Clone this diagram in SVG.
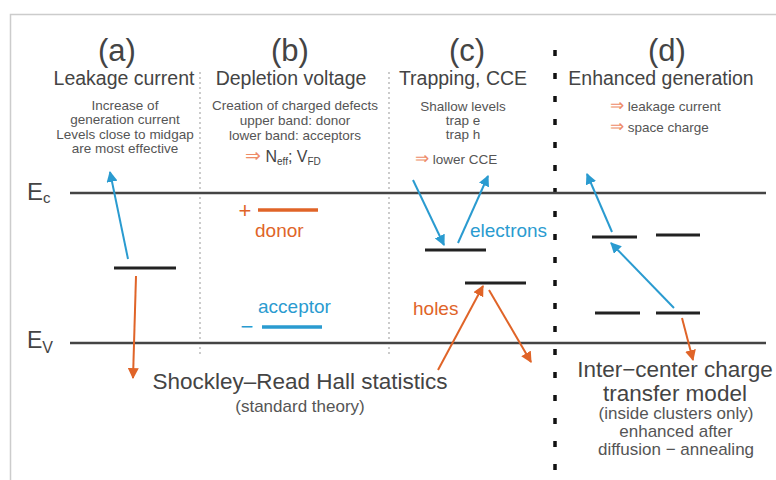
<svg xmlns="http://www.w3.org/2000/svg" width="776" height="480" viewBox="0 0 776 480">
<style>
text{font-family:"Liberation Sans",Arial,sans-serif;fill:#444}
.hd{font-size:31px;text-anchor:middle}
.sub{font-size:19.5px;text-anchor:middle}
.sm{font-size:13.5px;text-anchor:middle;fill:#555}
.sl{font-size:13.5px;fill:#555}
.big{font-size:22.5px;text-anchor:middle}
.mid{font-size:17px;text-anchor:middle;fill:#555}
.lab{font-size:19px}
.band{stroke:#444;stroke-width:2.5}
.lvl{stroke:#222;stroke-width:3}
.blue{stroke:#2a9bd0;stroke-width:2;fill:none}
.orng{stroke:#e06428;stroke-width:2;fill:none}
.bt{fill:#2a9bd0}
.ot{fill:#e06428}
.imp{fill:#ee8c68}
.dot{stroke:#aaa;stroke-width:1.2;stroke-dasharray:2 3}
</style>
<defs>
<marker id="ab" viewBox="0 0 10 10" refX="9" refY="5" markerWidth="5.5" markerHeight="5.5" orient="auto" markerUnits="strokeWidth"><path d="M0,0 L10,5 L0,10 z" fill="#2a9bd0"/></marker>
<marker id="ao" viewBox="0 0 10 10" refX="9" refY="5" markerWidth="5.5" markerHeight="5.5" orient="auto" markerUnits="strokeWidth"><path d="M0,0 L10,5 L0,10 z" fill="#e06428"/></marker>
</defs>
<rect width="776" height="480" fill="#fff"/>
<g id="frame"><path d="M10.5,480 V14.5 H776" fill="none" stroke="#ccc" stroke-width="1.5"/></g>
<g id="separators">
<line class="dot" x1="200" y1="72" x2="200" y2="356"/>
<line class="dot" x1="389" y1="72" x2="389" y2="356"/>
<line x1="555" y1="50" x2="555" y2="470" stroke="#111" stroke-width="3.5" stroke-dasharray="6 17"/>
</g>
<g id="bands">
<line class="band" x1="70" y1="193" x2="766" y2="193"/>
<line class="band" x1="70" y1="343" x2="766" y2="343"/>
<text x="27" y="200" font-size="24">E<tspan font-size="15" dy="3">c</tspan></text>
<text x="27" y="348" font-size="23">E<tspan font-size="16" dy="5">V</tspan></text>
</g>
<g id="headers">
<text class="hd" x="117" y="61">(a)</text>
<text class="hd" x="290" y="61">(b)</text>
<text class="hd" x="467" y="61">(c)</text>
<text class="hd" x="667" y="61">(d)</text>
<text class="sub" x="124" y="85">Leakage current</text>
<text class="sub" x="291" y="85">Depletion voltage</text>
<text class="sub" x="463" y="85">Trapping, CCE</text>
<text class="sub" x="661" y="85">Enhanced generation</text>
</g>
<g id="desc-a">
<text class="sm" x="125" y="110">Increase of</text>
<text class="sm" x="125" y="124">generation current</text>
<text class="sm" x="125" y="139">Levels close to midgap</text>
<text class="sm" x="125" y="153">are most effective</text>
</g>
<g id="desc-b">
<text class="sm" x="295" y="110">Creation of charged defects</text>
<text class="sm" x="295" y="125">upper band: donor</text>
<text class="sm" x="295" y="140">lower band: acceptors</text>
<text x="245" y="162" font-size="16"><tspan class="imp" font-size="19">⇒</tspan> N<tspan font-size="10" dy="3">eff</tspan><tspan dy="-3">; V</tspan><tspan font-size="10" dy="3">FD</tspan></text>
</g>
<g id="desc-c">
<text class="sm" x="463" y="111">Shallow levels</text>
<text class="sm" x="463" y="125">trap e</text>
<text class="sm" x="463" y="139">trap h</text>
<text x="415" y="164" class="sl"><tspan class="imp" font-size="17">⇒</tspan> lower CCE</text>
</g>
<g id="desc-d">
<text x="610" y="111" class="sl"><tspan class="imp" font-size="17">⇒</tspan> leakage current</text>
<text x="610" y="132" class="sl"><tspan class="imp" font-size="17">⇒</tspan> space charge</text>
</g>
<g id="levels">
<line class="lvl" x1="114" y1="268" x2="176" y2="268"/>
<line x1="258" y1="210" x2="318" y2="210" stroke="#e06428" stroke-width="3.5"/>
<line x1="262" y1="327" x2="322" y2="327" stroke="#2a9bd0" stroke-width="3.5"/>
<line class="lvl" x1="425" y1="250" x2="486" y2="250"/>
<line class="lvl" x1="465" y1="283" x2="526" y2="283"/>
<line class="lvl" x1="592" y1="237" x2="637" y2="237"/>
<line class="lvl" x1="656" y1="235" x2="700" y2="235"/>
<line class="lvl" x1="595" y1="313" x2="640" y2="313"/>
<line class="lvl" x1="656" y1="313" x2="700" y2="313"/>
</g>
<g id="labels">
<text x="245" y="218" font-size="22" class="ot" text-anchor="middle">+</text>
<text x="255" y="237" class="lab ot">donor</text>
<text x="258" y="313" class="lab bt">acceptor</text>
<text x="247" y="334" font-size="22" class="bt" text-anchor="middle">−</text>
<text x="470" y="237" class="lab bt">electrons</text>
<text x="413" y="315" class="lab ot">holes</text>
</g>
<g id="connectors">
<line class="blue" x1="128" y1="259" x2="110" y2="172" marker-end="url(#ab)"/>
<line class="orng" x1="136" y1="276" x2="133" y2="378" marker-end="url(#ao)"/>
<line class="blue" x1="413" y1="180" x2="444" y2="245" marker-end="url(#ab)"/>
<line class="blue" x1="458" y1="243" x2="488" y2="176" marker-end="url(#ab)"/>
<line class="orng" x1="438" y1="370" x2="483" y2="286" marker-end="url(#ao)"/>
<line class="orng" x1="489" y1="290" x2="531" y2="362" marker-end="url(#ao)"/>
<line class="blue" x1="612" y1="232" x2="587" y2="174" marker-end="url(#ab)"/>
<line class="blue" x1="674" y1="308" x2="611" y2="243" marker-end="url(#ab)"/>
<line class="orng" x1="682" y1="318" x2="693" y2="360" marker-end="url(#ao)"/>
</g>
<g id="footers">
<text class="big" x="300" y="389">Shockley–Read Hall statistics</text>
<text class="mid" x="300" y="412">(standard theory)</text>
<text class="big" x="675" y="377">Inter−center charge</text>
<text class="big" x="675" y="401">transfer model</text>
<text class="mid" x="676" y="419">(inside clusters only)</text>
<text class="mid" x="676" y="437">enhanced after</text>
<text class="mid" x="676" y="455">diffusion − annealing</text>
</g>
</svg>
